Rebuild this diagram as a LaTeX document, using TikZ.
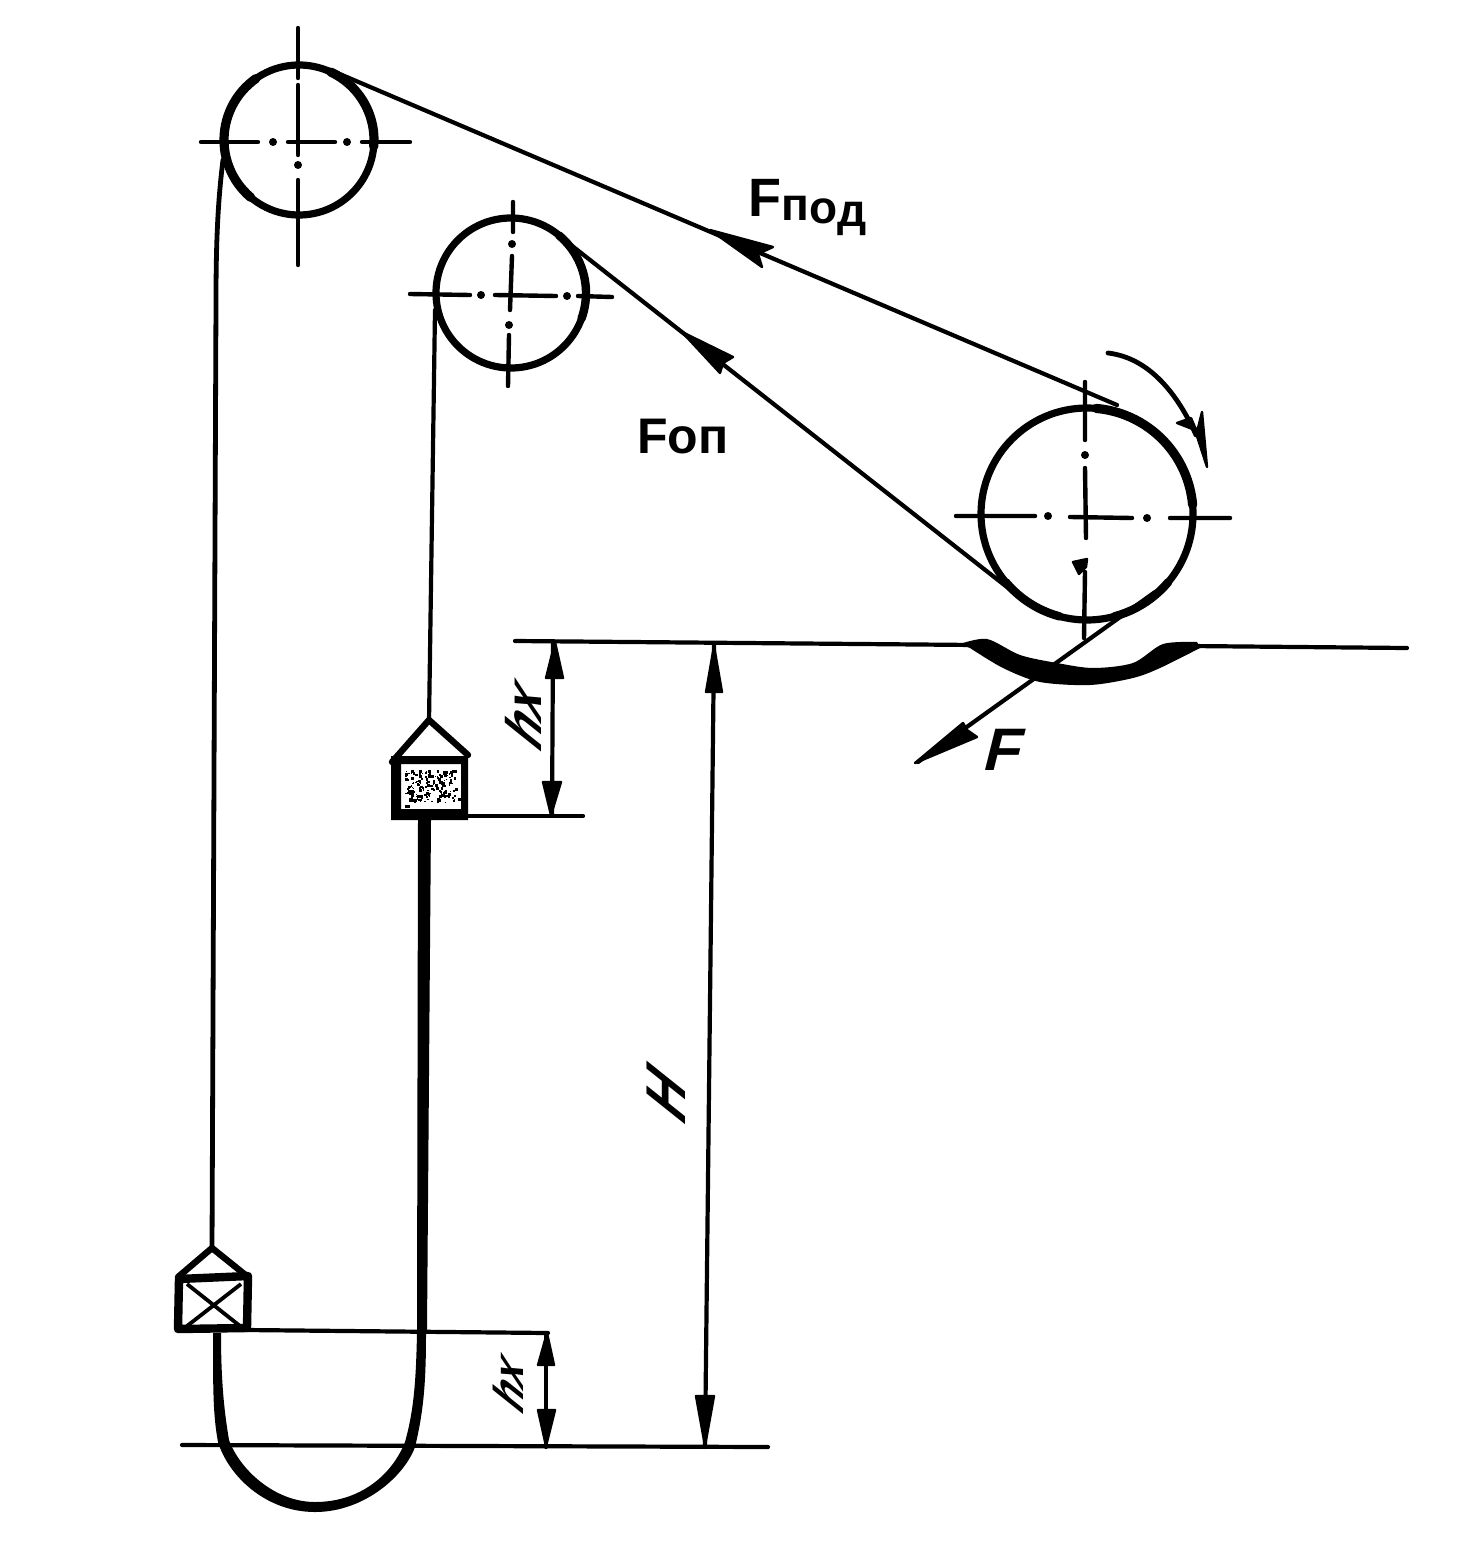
\documentclass[tikz,border=0pt]{standalone}
\usepackage{fontspec}
\setmainfont{Liberation Sans}
\tikzset{
  x=0.5pt,y=-0.5pt,
  belt/.style={line width=2.1pt,line cap=round,line join=round},
  wheel/.style={draw,circle,line width=3.6pt,inner sep=0pt,outer sep=0pt},
  wrap/.style={line width=4.6pt,line cap=round},
  axis/.style={line width=2.2pt,line cap=round},
  dimline/.style={line width=2.1pt,line cap=round},
  frame/.style={line width=3.2pt,line join=round,line cap=round},
  tip/.style={fill=black,draw=black,line width=1.2pt,line join=round},
  hand/.style={inner sep=0pt,font=\bfseries},
}
\newcommand{\axdot}[2]{\fill (#1,#2) circle[radius=4];}
\begin{document}
\begin{tikzpicture}
\useasboundingbox (0,0) rectangle (1459,1546);
% wheels
\node[wheel,minimum size=75pt] (w1) at (299,140) {};
\node[wheel,minimum size=75pt] (w2) at (511,293) {};
\node[wheel,minimum size=106pt] (w3) at (1087,514) {};
% centre lines
\draw[axis] (201,142)--(258,142) (288,142)--(335,142) (362,142)--(410,142);
\axdot{273}{142}\axdot{347}{142}
\draw[axis] (298,28)--(298,78) (298,85)--(298,155) (298,180)--(298,265);
\axdot{298}{165}
\draw[axis] (410,294)--(470,295) (495,295)--(556,296) (578,296)--(612,297);
\axdot{481}{295}\axdot{567}{296}
\draw[axis] (513,202)--(513,232) (512,256)--(510,310);
\axdot{512}{244}\axdot{509}{325}
\draw[axis] (509,335)--(508,386);
\draw[axis] (956,516)--(1035,516) (1070,517)--(1132,518) (1170,518)--(1230,518);
\axdot{1048}{516}\axdot{1147}{518}
\draw[axis] (1085,382)--(1085,440) (1085,468)--(1086,538) (1085,572)--(1084,638);
\axdot{1085}{455}
\fill[tip] (1073,562)--(1087,559)--(1086,567)--(1079,574)--cycle;
% belts
\coordinate (a1) at (335,72);
\coordinate (a2) at (1117,405);
\coordinate (b1) at (562,238);
\coordinate (b2) at (1012,591);
\coordinate (c1) at (1155,592);
\coordinate (c2) at (918,762);
\draw[belt] (a1)--(a2);
\draw[belt] (b1)--(b2);
\draw[belt] (c1)--(c2);
\draw[belt,line width=2.4pt] (223,160)..controls (218,200) and (216,240)..(216,300)--(212,1250);
\draw[belt] (435,310)--(429,722);
% thickened wraps on the wheels
\draw[wrap] plot[domain=-85:-5,samples=30] ({1087+106*cos(\x)},{514+106*sin(\x)});
\draw[wrap,line width=4.2pt] plot[domain=105:140,samples=12] ({1087+106*cos(\x)},{514+106*sin(\x)});
\draw[wrap,line width=4.2pt] plot[domain=40:75,samples=12] ({1087+106*cos(\x)},{514+106*sin(\x)});
\draw[wrap] plot[domain=-65:5,samples=24] ({299+75*cos(\x)},{140+75*sin(\x)});
\draw[wrap] plot[domain=130:235,samples=30] ({299+75*cos(\x)},{140+75*sin(\x)});
\draw[wrap,line width=4.2pt] plot[domain=-50:20,samples=24] ({511+75*cos(\x)},{293+75*sin(\x)});
% arrowheads on belts
\fill[tip] (710,230)--(773,247)--(758,254)--(762,267)--cycle;
\fill[tip] (682,332)--(733,357)--(723,363)--(720,373)--cycle;
\fill[tip] (915,763)--(963,723)--(967,730)--(977,737)--cycle;
% rotation arrow
\draw[line width=2.4pt,line cap=round] (1108,353)..controls (1150,358) and (1178,395)..(1196,435);
\fill[tip] (1207,467)--(1195,430)--(1177,423)--(1191,418)--(1197,432)--(1202,412)--cycle;
% seat
\draw[dimline] (515,641)--(975,645);
\draw[dimline] (1190,646)--(1407,648);
\fill plot[smooth] coordinates {(960,644) (987,639) (1020,655) (1057,663) (1093,668) (1133,663) (1163,644) (1197,642)}
  -- plot[smooth] coordinates {(1200,648) (1160,668) (1133,678) (1090,685) (1040,682) (1003,668) (970,648)} -- cycle;
% upper counterweight
\coordinate (ua) at (429,720);
\fill[even odd rule] (391,756) rectangle (468,820) (401,764) rectangle (461,809);
\pgfmathsetseed{7}
\foreach \i in {1,...,170}{
  \pgfmathsetmacro{\px}{405+rnd*50}
  \pgfmathsetmacro{\py}{769+rnd*33}
  \pgfmathsetmacro{\ps}{1+rnd*2}
  \fill (\px,\py) rectangle ++(\ps,\ps);
}
\foreach \px/\py in {408/790,405/805,458/798,452/770}{\fill (\px,\py) rectangle ++(5,3);}
\draw[frame] (392,762)--(ua)--(468,755);
\fill (418,820)--(431,820)--(427,1330)--(417,1330)--cycle;
% lower counterweight
\coordinate (la) at (212,1248);
\draw[frame] (178,1277)--(la)--(248,1277);
\draw[line width=4.2pt,line join=round,line cap=round] (179,1279)--(248,1276)--(247,1328)--(178,1329)--cycle;
\draw[line width=1.9pt] (187,1284)--(240,1326) (241,1284)--(187,1326);
% slack loop
\fill (213,1333)..controls (213,1390) and (213,1415)..(218,1442)..controls (228,1475) and (265,1512)..(315,1512)..controls (365,1512) and (405,1475)..(415,1447)..controls (424,1410) and (426,1380)..(426,1333)
  --(417,1333)..controls (416,1380) and (414,1410)..(405,1442)..controls (392,1475) and (360,1502)..(315,1502)..controls (275,1502) and (240,1470)..(229,1440)..controls (224,1410) and (221,1380)..(221,1333)--cycle;
% dimension lines
\draw[dimline] (246,1330)--(548,1333);
\draw[dimline] (182,1445)--(768,1447);
\draw[dimline] (467,816)--(583,816);
\draw[dimline] (553,641)--(552,815);
\draw[dimline] (714,645)--(705,1447);
\draw[dimline] (546,1333)--(546,1447);
\fill[tip] (555,642)--(563,678)--(546,678)--cycle;
\fill[tip] (551,815)--(543,782)--(561,782)--cycle;
\fill[tip] (714,646)--(722,692)--(706,692)--cycle;
\fill[tip] (705,1446)--(696,1396)--(714,1396)--cycle;
\fill[tip] (547,1333)--(554,1365)--(538,1365)--cycle;
\fill[tip] (546,1446)--(538,1410)--(555,1410)--cycle;
% labels
\node[hand,anchor=center] (lp) at (808,208) {\fontsize{27}{27}\selectfont F\fontsize{23}{23}\selectfont\raisebox{-2pt}{п}\raisebox{-3.5pt}{о}\raisebox{-5pt}{д}};
\node[hand,anchor=center] (lo) at (683,437) {\fontsize{25}{25}\selectfont Fоп};
\node[hand,xslant=0.25] (lf) at (1005,750) {\fontsize{30}{30}\selectfont F};
\node[hand,rotate=90,xslant=0.8] (lh) at (523,712) {\fontsize{25}{25}\selectfont hx};
\node[hand,rotate=90,xslant=0.8] (lh2) at (508,1381) {\fontsize{21}{21}\selectfont hx};
\node[hand,rotate=90,xslant=0.8] (lH) at (666,1093) {\fontsize{28}{28}\selectfont H};
\end{tikzpicture}
\end{document}
